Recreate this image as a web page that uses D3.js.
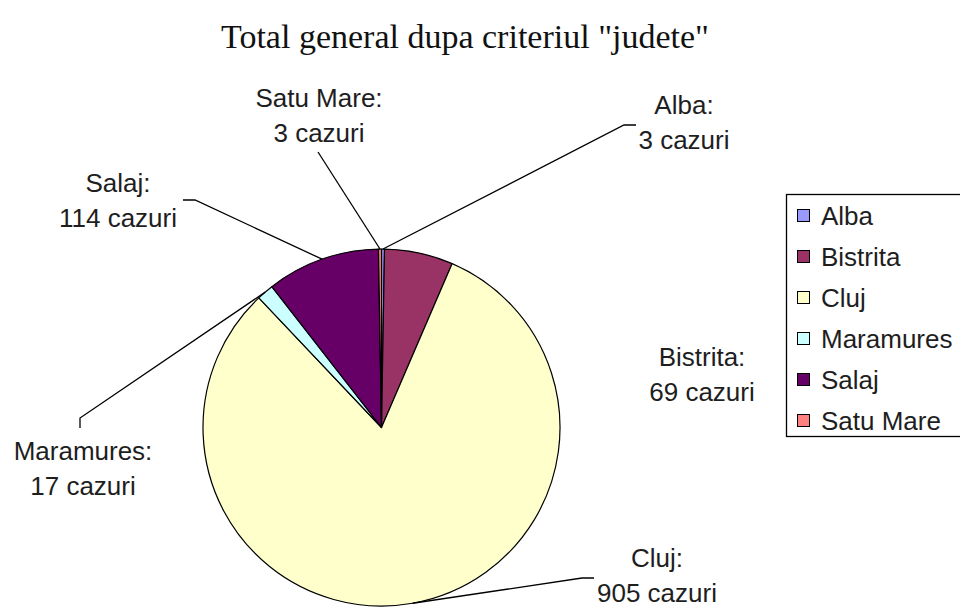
<!DOCTYPE html>
<html>
<head>
<meta charset="utf-8">
<script src="https://cdn.jsdelivr.net/npm/d3@7"></script>
<style>
  html, body { margin: 0; padding: 0; background: #fff; }
  svg { display: block; }
</style>
</head>
<body>
<svg id="chart" width="960" height="608"></svg>
<script>
// Cases per county
const counties = ["Alba", "Bistrita", "Cluj", "Maramures", "Salaj", "Satu Mare"];
const cases = [3, 69, 905, 17, 114, 3];
const sliceColors = ["#9999FF", "#993366", "#FFFFCC", "#CCFFFF", "#660066", "#FF8080"];
const unitLabel = "cazuri";
const chartTitle = "Total general dupa criteriul \"judete\"";

// Label placement: text centre, first baseline, and leader elbows (label side first)
const labelLayout = {
  "Satu Mare": { x: 319, y: 107, leader: [[318, 152]] },
  "Alba":      { x: 684, y: 114, leader: [[636, 125], [624, 125]] },
  "Salaj":     { x: 118, y: 192, leader: [[183, 200], [195, 200]] },
  "Bistrita":  { x: 702, y: 366, leader: null },
  "Maramures": { x: 83,  y: 460, leader: [[80, 428], [80, 418]] },
  "Cluj":      { x: 657, y: 567, leader: [[594, 578], [582, 578]] }
};

const svg = d3.select("#chart");
const cx = 381.5, cy = 427.5, radius = 178.5;
const lineGap = 35;
const labelFont = "'Liberation Sans', Arial, sans-serif";
const labelSize = 26;

// Title
svg.append("text")
  .attr("x", 465).attr("y", 48)
  .attr("text-anchor", "middle")
  .attr("font-family", "'Liberation Serif', 'Times New Roman', serif")
  .attr("font-size", 34)
  .attr("fill", "#111")
  .text(chartTitle);

const rows = counties.map((name, i) => ({ name, value: cases[i], color: sliceColors[i] }));

const pie = d3.pie().sort(null).value(d => d.value).startAngle(0).endAngle(2 * Math.PI);
const arcs = pie(rows);
const arc = d3.arc().innerRadius(0).outerRadius(radius);
const edge = d3.arc().innerRadius(radius).outerRadius(radius);

const g = svg.append("g").attr("transform", `translate(${cx},${cy})`);

g.selectAll("path.slice")
  .data(arcs)
  .join("path")
  .attr("class", "slice")
  .attr("d", arc)
  .attr("fill", d => d.data.color)
  .attr("stroke", "#000")
  .attr("stroke-width", 1.2)
  .attr("stroke-linejoin", "round");

// Leader lines from each slice's outer edge to its label
const line = d3.line();
arcs.forEach(d => {
  const lay = labelLayout[d.data.name];
  if (!lay || !lay.leader) return;
  const [ex, ey] = edge.centroid(d);
  const pts = lay.leader.concat([[cx + ex, cy + ey]]);
  svg.append("path")
    .attr("d", line(pts))
    .attr("fill", "none")
    .attr("stroke", "#000")
    .attr("stroke-width", 1.3);
});

// Data labels
arcs.forEach(d => {
  const lay = labelLayout[d.data.name];
  const t = svg.append("text")
    .attr("text-anchor", "middle")
    .attr("font-family", labelFont)
    .attr("font-size", labelSize)
    .attr("fill", "#1e1e1e");
  t.append("tspan").attr("x", lay.x).attr("y", lay.y).text(d.data.name + ":");
  t.append("tspan").attr("x", lay.x).attr("y", lay.y + lineGap).text(d.data.value + " " + unitLabel);
});

// Legend
const legend = svg.append("g");
const lgX = 786, lgY = 194, lgW = 190, lgH = 242, rowStep = 41;
legend.append("rect")
  .attr("x", lgX + 0.5).attr("y", lgY + 0.5)
  .attr("width", lgW).attr("height", lgH)
  .attr("fill", "#fff").attr("stroke", "#000").attr("stroke-width", 1.3);

const items = legend.selectAll("g.item")
  .data(rows)
  .join("g")
  .attr("class", "item")
  .attr("transform", (d, i) => `translate(${lgX + 11},${lgY + 22 + i * rowStep})`);

items.append("rect")
  .attr("x", 0.5).attr("y", -6.5)
  .attr("width", 12).attr("height", 12)
  .attr("fill", d => d.color)
  .attr("stroke", "#000").attr("stroke-width", 1);

items.append("text")
  .attr("x", 24).attr("y", 9)
  .attr("font-family", labelFont)
  .attr("font-size", labelSize)
  .attr("fill", "#1e1e1e")
  .text(d => d.name);
</script>
</body>
</html>
